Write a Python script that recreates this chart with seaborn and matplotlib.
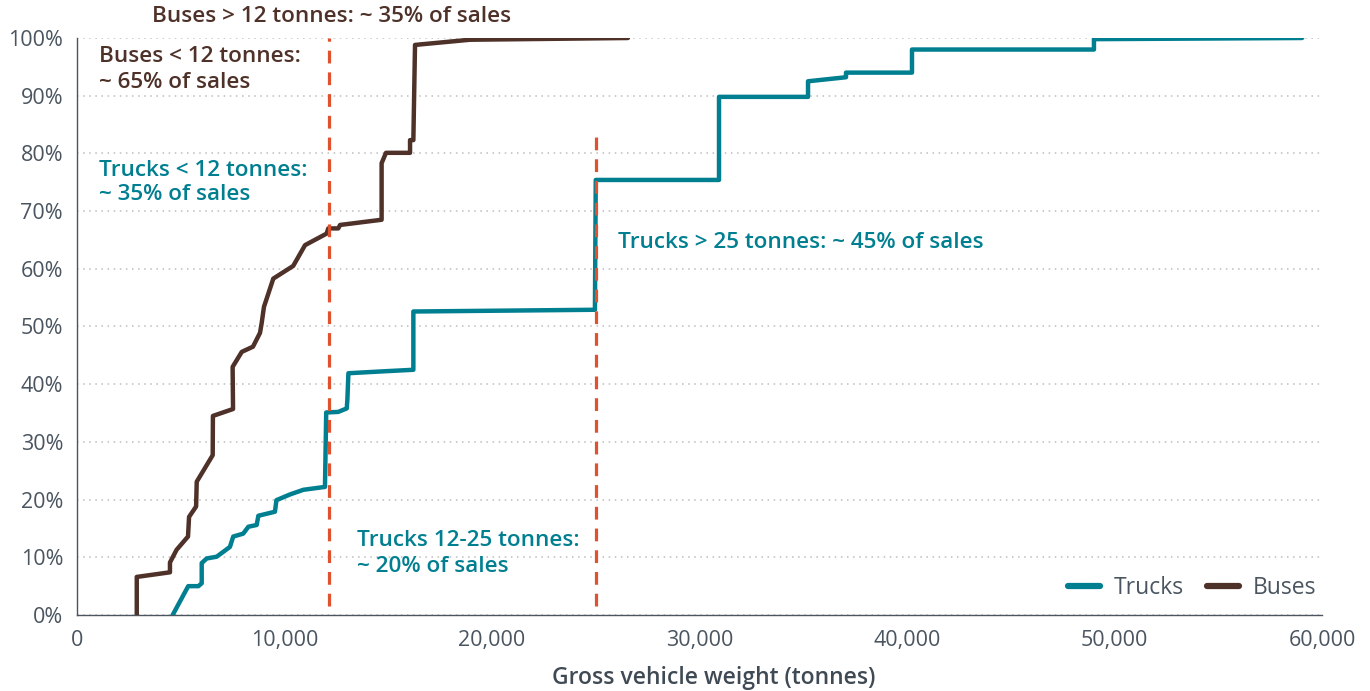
import numpy as np
import pandas as pd
import matplotlib
matplotlib.use("Agg")
import matplotlib.pyplot as plt
import seaborn as sns
from matplotlib.ticker import FuncFormatter

# ---- data ----
bus_x = [2880, 2880, 4480, 4480, 4800, 5350, 5400, 5740, 5770, 6540, 6550, 7520, 7500, 7940,
         8480, 8820, 8900, 9010, 9460, 10420, 10990, 12030, 12110, 12590, 12680, 14680, 14680,
         14890, 16050, 16050, 16210, 16290, 18940, 26550]
bus_y = [0, 6.6, 7.4, 9.1, 11.3, 13.6, 17.0, 18.8, 23.1, 27.7, 34.5, 35.7, 43.0, 45.6,
         46.5, 48.9, 50.6, 53.4, 58.3, 60.5, 64.1, 66.1, 67.0, 67.0, 67.6, 68.5, 78.3,
         80.1, 80.1, 82.3, 82.3, 98.8, 99.7, 100.0]

truck_x = [4610, 5360, 5850, 6010, 6010, 6250, 6730, 7370, 7530, 8010, 8260, 8660, 8740, 9540,
           9610, 10270, 10910, 11950, 12010, 12590, 13000, 13030, 13080, 14600, 16210, 16210,
           24960, 25000, 30940, 30940, 35230, 35230, 37060, 37060, 40240, 40240, 49010, 49010, 59040]
truck_y = [0, 5.0, 5.0, 5.5, 9.0, 9.8, 10.1, 11.8, 13.6, 14.1, 15.3, 15.6, 17.2, 17.9,
           19.9, 20.9, 21.7, 22.2, 35.1, 35.2, 35.8, 37.3, 41.9, 42.2, 42.5, 52.6,
           52.9, 75.4, 75.4, 89.8, 89.8, 92.5, 93.2, 94.0, 94.0, 98.0, 98.0, 99.8, 100.0]

series_names = ["Trucks", "Buses"]
split_x = [12150, 25000]
split_top = [100, 83.5]
split_bottom = 1.5

y_ticks = [0, 10, 20, 30, 40, 50, 60, 70, 80, 90, 100]
x_ticks = [0, 10000, 20000, 30000, 40000, 50000, 60000]

# ---- style ----
TEAL = "#007F91"
BROWN = "#4E3128"
ORANGE = "#E0522D"
GRAY = "#4A5560"

sns.set_theme(style="white")
plt.rcParams["font.family"] = ["Open Sans", "DejaVu Sans"]

fig = plt.figure(figsize=(13.7, 6.91), dpi=100)
ax = fig.add_axes([77 / 1370, 1 - 615 / 691, (1322 - 77) / 1370, (615 - 38) / 691])

df = pd.concat([
    pd.DataFrame({"x": truck_x, "y": truck_y, "series": "Trucks", "order": range(len(truck_x))}),
    pd.DataFrame({"x": bus_x, "y": bus_y, "series": "Buses", "order": range(len(bus_x))}),
], ignore_index=True)

sns.lineplot(data=df, x="x", y="y", hue="series", hue_order=series_names,
             palette={"Trucks": TEAL, "Buses": BROWN}, sort=False, estimator=None,
             linewidth=3.2, ax=ax, zorder=3)

# dashed split lines
for sx, st in zip(split_x, split_top):
    ax.plot([sx, sx], [split_bottom, st], color=ORANGE, lw=2.3,
            linestyle=(0, (4.0, 2.8)), zorder=4)

ax.set_xlim(0, 60000)
ax.set_ylim(0, 100)
ax.set_xticks(x_ticks)
ax.set_yticks(y_ticks)
ax.xaxis.set_major_formatter(FuncFormatter(lambda v, p: f"{int(v):,}"))
ax.yaxis.set_major_formatter(FuncFormatter(lambda v, p: f"{int(v)}%"))
ax.tick_params(axis="both", length=0, labelsize=15.5, colors=GRAY)
ax.tick_params(axis="x", pad=11)
ax.tick_params(axis="y", pad=10)

ax.yaxis.grid(True, linestyle=(0, (1, 3)), color="#BDBDBD", lw=1.1)
ax.xaxis.grid(False)
for s in ["top", "right"]:
    ax.spines[s].set_visible(False)
for s in ["left", "bottom"]:
    ax.spines[s].set_color("#4A5560")
    ax.spines[s].set_linewidth(1.0)

ax.set_xlabel("Gross vehicle weight (tonnes)", fontsize=16.5, color="#3F4A54",
              fontweight="semibold")
ax.xaxis.set_label_coords((714 - 77) / 1245, -(678 - 615) / 577)
ax.xaxis.label.set_va("center")
ax.set_ylabel("")

leg = ax.legend(loc="lower right", ncol=2, frameon=False, fontsize=16.5,
                handlelength=1.4, columnspacing=1.0, handletextpad=0.6,
                bbox_to_anchor=(1.012, -0.01))
for t in leg.get_texts():
    t.set_color(GRAY)
for h in leg.get_lines():
    h.set_linewidth(4.5)
    h.set_solid_capstyle("round")

# annotations (one text per line)
fs = 16.2
notes = [
    (152, 17, "Buses > 12 tonnes: ~ 35% of sales", BROWN),
    (99, 57, "Buses < 12 tonnes:", BROWN),
    (99, 82, "~ 65% of sales", BROWN),
    (99, 170, "Trucks < 12 tonnes:", TEAL),
    (99, 195, "~ 35% of sales", TEAL),
    (618, 243, "Trucks > 25 tonnes: ~ 45% of sales", TEAL),
    (357, 541, "Trucks 12-25 tonnes:", TEAL),
    (357, 567, "~ 20% of sales", TEAL),
]
for px, py, txt, col in notes:
    fig.text(px / 1370, 1 - py / 691, txt, color=col, fontsize=fs,
             fontweight="semibold", va="center", ha="left")

fig.savefig("out.png", dpi=100)
